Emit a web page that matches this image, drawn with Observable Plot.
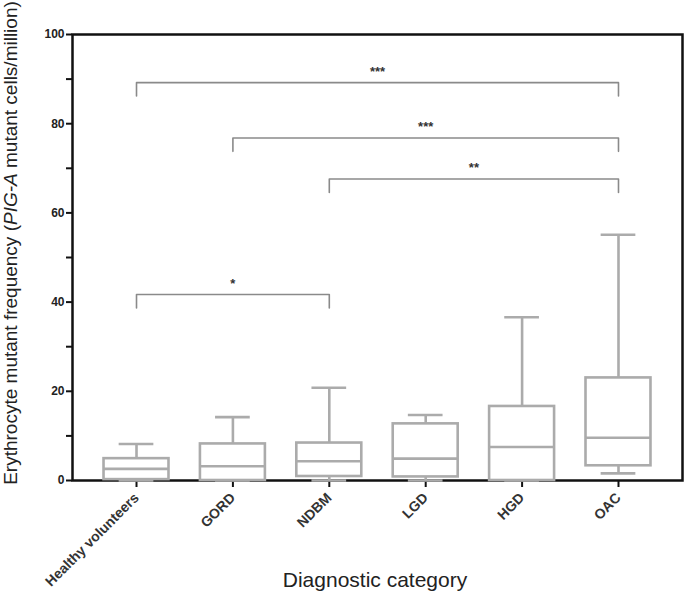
<!DOCTYPE html>
<html>
<head>
<meta charset="utf-8">
<script src="https://cdn.jsdelivr.net/npm/d3@7"></script>
<script src="https://cdn.jsdelivr.net/npm/@observablehq/plot@0.6"></script>
<style>
  html, body { margin: 0; padding: 0; background: #fff; }
  #chart svg { display: block; }
  #chart g[aria-label="x-axis tick label"] text,
  #chart g[aria-label="y-axis tick label"] text { font-weight: bold; }
</style>
</head>
<body>
<div id="chart"></div>
<script>
// ---- data ----
const categories = ["Healthy volunteers", "GORD", "NDBM", "LGD", "HGD", "OAC"];
const boxMin    = [0,   0,   0,   0,    0,    1.6];
const boxQ1     = [0.2, 0,   0.9, 0.8,  0,    3.3];
const boxMedian = [2.6, 3.2, 4.3, 4.9,  7.5,  9.6];
const boxQ3     = [4.9, 8.2, 8.4, 12.7, 16.6, 23.0];
const boxMax    = [8.2, 14.2, 20.8, 14.7, 36.6, 55.1];

const bracketFrom  = ["Healthy volunteers", "GORD", "NDBM", "Healthy volunteers"];
const bracketTo    = ["OAC", "OAC", "OAC", "NDBM"];
const bracketLevel = [89.2, 76.8, 67.6, 41.7];
const bracketLabel = ["***", "***", "**", "*"];

const yTicks = d3.range(0, 101, 10);

// ---- derived tables ----
const idx = c => categories.indexOf(c);
const boxes = categories.map((c, i) => ({
  cat: c, i, min: boxMin[i], q1: boxQ1[i], median: boxMedian[i], q3: boxQ3[i], max: boxMax[i]
}));
const brackets = bracketFrom.map((f, k) => ({
  k, from: idx(f), to: idx(bracketTo[k]), level: bracketLevel[k], label: bracketLabel[k]
}));
const legDrop = 3;
const bracketPts = brackets.flatMap(b => [
  {k: b.k, x: b.from, y: b.level - legDrop},
  {k: b.k, x: b.from, y: b.level},
  {k: b.k, x: b.to,   y: b.level},
  {k: b.k, x: b.to,   y: b.level - legDrop}
]);

const halfBox = 0.337, halfCap = 0.18;
const boxColor = "#ababab", boxWidth = 2.6;

const svg = Plot.plot({
  width: 685,
  height: 593,
  marginLeft: 72,
  marginRight: 3,
  marginTop: 34,
  marginBottom: 113,
  style: {fontFamily: "'Liberation Sans', Arial, sans-serif", fontSize: "12px", color: "#222", background: "#fff"},
  x: {type: "linear", domain: [-0.664, categories.length - 1 + 0.664], nice: false},
  y: {domain: [0, 100], nice: false},
  marks: [
    Plot.frame({stroke: "#111", strokeWidth: 2.5}),
    Plot.axisY({ticks: yTicks, tickFormat: d => (d % 20 === 0 ? d : ""), tickSize: 6, tickPadding: 2,
                strokeWidth: 2, stroke: "#111", label: null, fontSize: 12}),
    Plot.axisX({ticks: d3.range(categories.length), tickFormat: i => categories[i], tickRotate: -45,
                tickSize: 7, tickPadding: 8, strokeWidth: 2, stroke: "#111", label: null, fontSize: 14, fill: "#333"}),
    // whiskers
    Plot.ruleX(boxes, {x: "i", y1: "q3", y2: "max", stroke: boxColor, strokeWidth: boxWidth}),
    Plot.ruleX(boxes, {x: "i", y1: "min", y2: "q1", stroke: boxColor, strokeWidth: boxWidth}),
    Plot.ruleY(boxes, {y: "max", x1: d => d.i - halfCap, x2: d => d.i + halfCap, stroke: boxColor, strokeWidth: boxWidth}),
    Plot.ruleY(boxes, {y: "min", x1: d => d.i - halfCap, x2: d => d.i + halfCap, stroke: boxColor, strokeWidth: boxWidth}),
    // boxes
    Plot.rect(boxes, {x1: d => d.i - halfBox, x2: d => d.i + halfBox, y1: "q1", y2: "q3",
                      fill: "#fff", stroke: boxColor, strokeWidth: boxWidth}),
    Plot.ruleY(boxes, {y: "median", x1: d => d.i - halfBox, x2: d => d.i + halfBox, stroke: boxColor, strokeWidth: boxWidth}),
    // significance brackets
    Plot.line(bracketPts, {x: "x", y: "y", z: "k", stroke: "#8a8a8a", strokeWidth: 1.6}),
    Plot.text(brackets, {x: b => (b.from + b.to) / 2, y: "level", text: "label", dy: -11,
                         fontSize: 13, fontWeight: "bold", fill: "#333"})
  ]
});

const s = d3.select(svg);
const yt = s.append("text")
  .attr("transform", "translate(17,243) rotate(-90)")
  .attr("text-anchor", "middle")
  .attr("fill", "#222")
  .style("font-size", "19px");
yt.append("tspan").text("Erythrocyte mutant frequency (");
yt.append("tspan").attr("font-style", "italic").text("PIG-A");
yt.append("tspan").text(" mutant cells/million)");

s.append("text")
  .attr("x", 375).attr("y", 587)
  .attr("text-anchor", "middle")
  .attr("fill", "#222")
  .style("font-size", "21px")
  .text("Diagnostic category");

document.getElementById("chart").appendChild(svg);
</script>
</body>
</html>
